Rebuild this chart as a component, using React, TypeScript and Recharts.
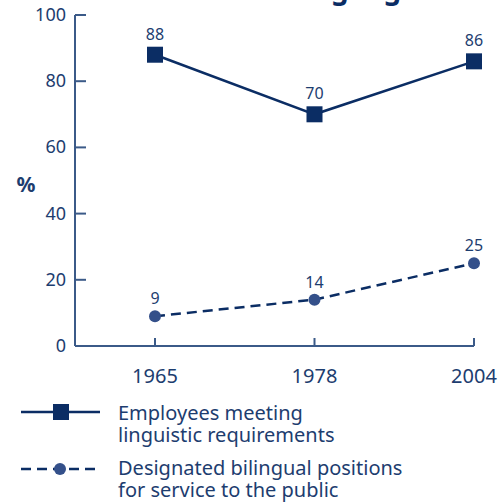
import { LineChart, Line, XAxis, YAxis, LabelList } from "recharts";

const years = ["1965", "1978", "2004"];
const employeesMeeting = [88, 70, 86];
const bilingualPositions = [9, 14, 25];
const yTicks = [0, 20, 40, 60, 80, 100];

const navy = "#0b2d64";
const textColor = "#1d3d6f";
const axisColor = "#3b5a88";
const dotColor = "#34508a";
const font = "'Noto Sans', 'Open Sans', sans-serif";

const data = years.map((year, i) => ({
  year,
  employees: employeesMeeting[i],
  positions: bilingualPositions[i],
}));

const YTick = ({ x, y, payload }: any) => (
  <g>
    <line x1={x} y1={y} x2={x + 11} y2={y} stroke={axisColor} strokeWidth={2} />
    <text x={x - 9} y={y + 6} textAnchor="end" fill={textColor} fontSize={18} fontFamily={font}>
      {payload.value}
    </text>
  </g>
);

const XTick = ({ x, y, payload }: any) => (
  <g>
    <line x1={x} y1={y} x2={x} y2={y - 8} stroke={axisColor} strokeWidth={2} />
    <text x={x} y={y + 37} textAnchor="middle" fill={textColor} fontSize={20} fontFamily={font}>
      {payload.value}
    </text>
  </g>
);

const SquareDot = ({ cx, cy }: any) => (
  <rect x={cx - 8} y={cy - 8} width={16} height={16} fill={navy} />
);

const RoundDot = ({ cx, cy }: any) => <circle cx={cx} cy={cy} r={6} fill={dotColor} />;

const ValueLabel = (gap: number) => (props: any) => {
  const { x, y, value } = props;
  return (
    <text x={x} y={y - gap} textAnchor="middle" fill={textColor} fontSize={16} fontFamily={font}>
      {value}
    </text>
  );
};

const PercentLabel = () => (
  <text x={26} y={192} textAnchor="middle" fill={textColor} fontSize={21} fontWeight="bold" fontFamily={font}>
    %
  </text>
);

const legendText = (x: number, y: number, s: string) => (
  <text x={x} y={y} fill={textColor} fontSize={20} fontFamily={font}>
    {s}
  </text>
);

const App = () => {
  return (
    <div style={{ position: "absolute", left: 0, top: 0, width: 503, height: 503, background: "#fff" }}>
      <svg width={503} height={503} style={{ position: "absolute", left: 0, top: 0 }}>
        <text x={418} y={-1} textAnchor="end" fill={navy} fontSize={28} fontWeight="bold" fontFamily={font}>
          Official language
        </text>
        {/* legend */}
        <line x1={21} y1={412} x2={100} y2={412} stroke={navy} strokeWidth={2.5} />
        <rect x={53} y={404} width={16} height={16} fill={navy} />
        <line x1={21} y1={469} x2={100} y2={469} stroke={navy} strokeWidth={2.5} strokeDasharray="10 6" />
        <circle cx={60} cy={469} r={6} fill={dotColor} />
        {legendText(118, 420, "Employees meeting")}
        {legendText(118, 442, "linguistic requirements")}
        {legendText(118, 475, "Designated bilingual positions")}
        {legendText(118, 497, "for service to the public")}
      </svg>
      <div style={{ position: "absolute", left: 0, top: 0 }}>
        <LineChart width={503} height={503} data={data} margin={{ top: 15, right: 29, left: 0, bottom: 117 }}>
          <XAxis
            dataKey="year"
            padding={{ left: 80, right: 0 }}
            height={40}
            tickSize={0}
            tickMargin={0}
            tickLine={false}
            axisLine={{ stroke: axisColor, strokeWidth: 2 }}
            tick={<XTick />}
            interval={0}
          />
          <YAxis
            domain={[0, 100]}
            ticks={yTicks}
            width={75}
            tickSize={0}
            tickMargin={0}
            tickLine={false}
            axisLine={{ stroke: axisColor, strokeWidth: 2 }}
            tick={<YTick />}
            label={<PercentLabel />}
          />
          <Line
            dataKey="employees"
            stroke={navy}
            strokeWidth={2.5}
            dot={<SquareDot />}
            isAnimationActive={false}
          >
            <LabelList dataKey="employees" content={ValueLabel(15)} />
          </Line>
          <Line
            dataKey="positions"
            stroke={navy}
            strokeWidth={2.5}
            strokeDasharray="10 6"
            dot={<RoundDot />}
            isAnimationActive={false}
          >
            <LabelList dataKey="positions" content={ValueLabel(12)} />
          </Line>
        </LineChart>
      </div>
    </div>
  );
};

export default App;
